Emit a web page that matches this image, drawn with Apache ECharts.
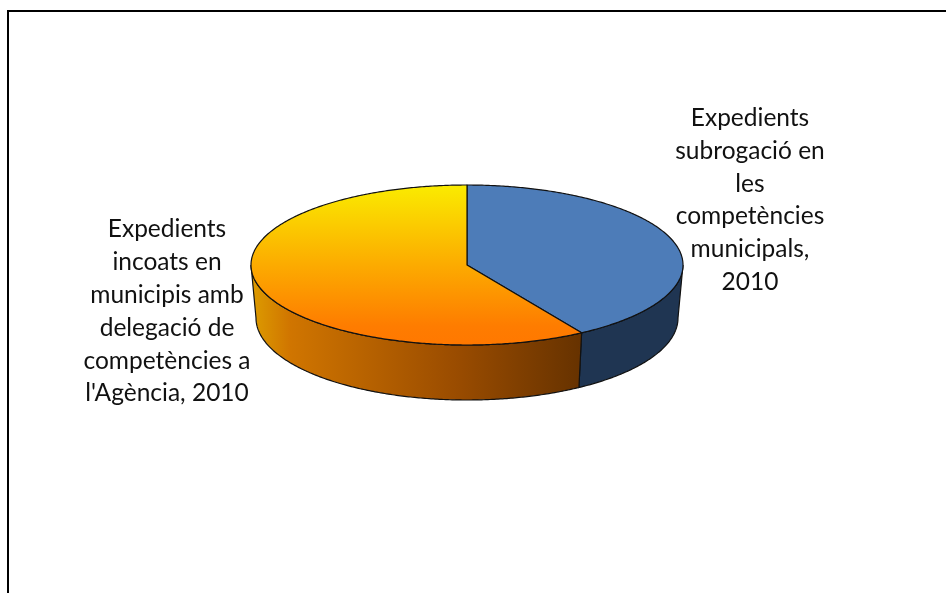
<!DOCTYPE html>
<html>
<head>
<meta charset="utf-8">
<style>html,body{margin:0;padding:0;background:#fff}#c{width:946px;height:593px}</style>
<script src="https://cdn.jsdelivr.net/npm/echarts@6/dist/echarts.min.js"></script>
</head>
<body>
<div id="c"></div>
<script>
const categories = [
  "Expedients\nsubrogació en\nles\ncompetències\nmunicipals,\n2010",
  "Expedients\nincoats en\nmunicipis amb\ndelegació de\ncompetències a\nl'Agència, 2010"
];
const values = [41.1, 58.9];

// layout of the tilted disc
const TOP = {cx: 467, cy: 265, rx: 216, ry: 80};
const BASE = {cx: 467, cy: 318, rx: 211, ry: 82};
const LABEL_POS = [[750, 200], [167, 311.5]];

const total = values.reduce((a, b) => a + b, 0);
function angleAt(i) {
  let s = 0;
  for (let k = 0; k < i; k++) s += values[k];
  return s / total * 2 * Math.PI;
}
function pt(e, t) {
  return [e.cx + e.rx * Math.sin(t), e.cy - e.ry * Math.cos(t)];
}
function arc(e, a, b) {
  const n = Math.max(2, Math.ceil(Math.abs(b - a) / 0.01));
  const out = [];
  for (let i = 0; i <= n; i++) out.push(pt(e, a + (b - a) * i / n));
  return out;
}
const linear = (x, y, x2, y2, stops) => ({
  type: 'linear', x, y, x2, y2,
  colorStops: stops.map(s => ({offset: s[0], color: s[1]}))
});
const topFills = [
  '#4d7cb8',
  linear(0, 0, 0, 1, [[0, '#faec00'], [0.5, '#fcab00'], [0.88, '#fe7c00'], [1, '#ff7800']])
];
const sideFills = [
  '#1f3552',
  linear(0, 0, 1, 0, [[0, '#dd9d00'], [0.12, '#d07500'], [0.62, '#9a4c00'], [1, '#663200']])
];
const EDGE = '#111';
const FRONT_A = Math.PI / 2, FRONT_B = Math.PI * 1.5;

function renderSlice(params, api) {
  const i = params.dataIndex;
  const a = angleAt(i);
  const b = a + api.value(0) / total * 2 * Math.PI;
  const children = [];
  const sa = Math.max(a, FRONT_A), sb = Math.min(b, FRONT_B);
  if (sb > sa) {
    children.push({
      type: 'polygon',
      shape: {points: arc(TOP, sa, sb).concat(arc(BASE, sb, sa))},
      style: {fill: sideFills[i], stroke: EDGE, lineWidth: 1.2}
    });
  }
  children.push({
    type: 'polygon',
    shape: {points: [[TOP.cx, TOP.cy]].concat(arc(TOP, a, b))},
    style: {fill: topFills[i], stroke: EDGE, lineWidth: 1.2, lineJoin: 'round'}
  });
  children.push({
    type: 'text',
    style: {
      text: categories[i],
      x: LABEL_POS[i][0], y: LABEL_POS[i][1],
      align: 'center', verticalAlign: 'middle',
      font: '24.5px Lato, "Open Sans", sans-serif',
      lineHeight: 32.8, fill: '#111'
    }
  });
  return {type: 'group', children};
}

const chart = echarts.init(document.getElementById('c'), null, {renderer: 'canvas'});
chart.setOption({
  animation: false,
  backgroundColor: '#fff',
  graphic: [{
    type: 'polyline',
    shape: {points: [[8, 593], [8, 11], [946, 11]]},
    style: {stroke: '#000', lineWidth: 2, fill: null}
  }],
  series: [{
    type: 'custom',
    coordinateSystem: 'none',
    silent: true,
    renderItem: renderSlice,
    data: values.map((v, i) => ({name: categories[i], value: [v]}))
  }]
});
</script>
</body>
</html>
